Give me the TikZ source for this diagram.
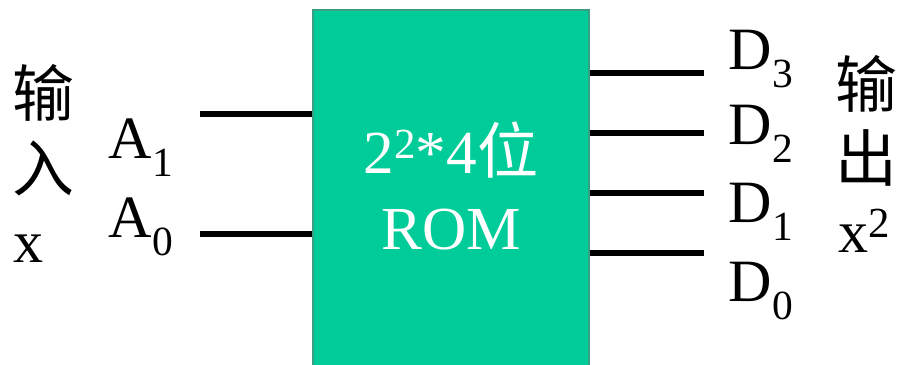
\documentclass[tikz,border=0pt]{standalone}
\usepackage{fontspec}
\setmainfont{Liberation Serif}
\newfontfamily\cjk{Noto Sans CJK SC}
\usetikzlibrary{positioning}
\definecolor{romfill}{HTML}{00CC99}
\definecolor{romedge}{HTML}{3A9F82}
\newcommand{\lowidx}[1]{\raisebox{-5pt}{\fontsize{11.8}{12}\selectfont #1}}
\newcommand{\highidx}[1]{\raisebox{4.4pt}{\fontsize{12.2}{13}\selectfont #1}}

\begin{document}
\begin{tikzpicture}[
    every node/.style={inner sep=0pt},
    rombox/.style={rectangle, draw=romedge, line width=0.8pt, fill=romfill,
                   minimum width=2.76cm, minimum height=3.65cm},
    romtext/.style={text=white, font=\fontsize{17.4}{20}\selectfont, anchor=base},
    pinlbl/.style={font=\fontsize{17.1}{20}\selectfont, anchor=base west},
    side/.style={font=\fontsize{17.6}{20}\selectfont\cjk, anchor=base},
    sidex/.style={font=\fontsize{17.1}{20}\selectfont, anchor=base west},
    wire/.style={line width=1.5pt}
]
    \useasboundingbox (0,0) rectangle (8.97,3.65);
    % the memory block
    \node[rombox]  (rom)     at (4.51,1.725) {};
    \node[romtext] (romsize) at (4.51,1.91) {2\highidx{2}*4{\cjk 位}};
    \node[romtext] (romname) at (4.51,1.15) {ROM};
    % input side
    \node[side]  (inone)   at (0.435,2.48) {输};
    \node[side]  (intwo)   at (0.435,1.73) {入};
    \node[sidex] (inx)     at (0.13,1.02)  {x};
    \node[pinlbl] (aone)   at (1.08,2.06)  {A\lowidx{1}};
    \node[pinlbl] (azero)  at (1.08,1.27)  {A\lowidx{0}};
    \coordinate (aoneend)  at (2.00,2.51);
    \coordinate (azeroend) at (2.00,1.31);
    \draw[wire] (aoneend)  -- (aoneend -| rom.west);
    \draw[wire] (azeroend) -- (azeroend -| rom.west);
    % output side
    \coordinate (dthreeend) at (7.04,2.92);
    \coordinate (dtwoend)   at (7.04,2.32);
    \coordinate (doneend)   at (7.04,1.72);
    \coordinate (dzeroend)  at (7.04,1.12);
    \draw[wire] (rom.east |- dthreeend) -- (dthreeend);
    \draw[wire] (rom.east |- dtwoend)   -- (dtwoend);
    \draw[wire] (rom.east |- doneend)   -- (doneend);
    \draw[wire] (rom.east |- dzeroend)  -- (dzeroend);
    \node[pinlbl] (dthree) at (7.28,2.95) {D\lowidx{3}};
    \node[pinlbl] (dtwo)   at (7.28,2.20) {D\lowidx{2}};
    \node[pinlbl] (done)   at (7.28,1.42) {D\lowidx{1}};
    \node[pinlbl] (dzero)  at (7.28,0.63) {D\lowidx{0}};
    \node[side]  (outone)  at (8.66,2.57) {输};
    \node[side]  (outtwo)  at (8.66,1.83) {出};
    \node[sidex] (outx)    at (8.38,1.12) {x\highidx{2}};
\end{tikzpicture}
\end{document}
